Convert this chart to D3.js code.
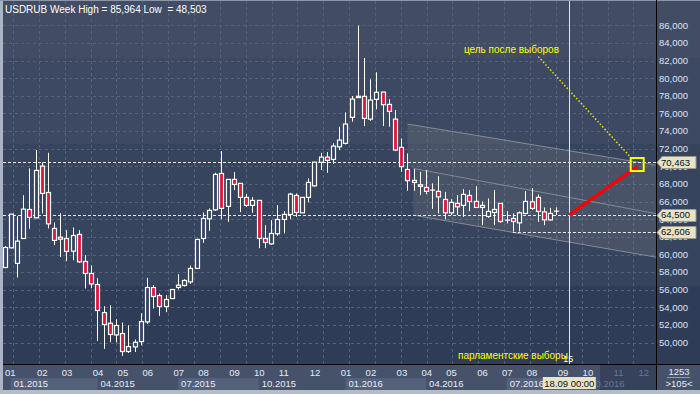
<!DOCTYPE html>
<html>
<head>
<meta charset="utf-8">
<script src="https://cdn.jsdelivr.net/npm/d3@7"></script>
<style>
  body { margin: 0; background: #2e3b56; }
  svg { display: block; font-family: "Liberation Sans", Arial, sans-serif; }
</style>
</head>
<body>
<div id="chart"></div>
<script>
// weekly candles USDRUB, index 0 = first visible week of 2015
const open = [58.53,60.76,58.99,61.82,65.11,64.16,70.03,67.04,62.96,61.97,61.82,60.38,62.28,59.21,57.85,56.60,53.42,52.21,50.88,51.04,
  49.00,49.52,50.13,52.36,56.26,55.35,54.10,55.01,56.26,56.49,56.90,58.42,61.82,64.05,65.07,69.20,65.46,68.52,68.07,66.48,
  65.57,66.14,61.82,61.21,62.35,63.98,64.55,66.70,64.73,66.48,67.79,70.45,71.05,70.79,72.22,72.61,75.56,77.80,77.94,75.36,
  77.60,78.43,77.03,75.36,72.15,69.65,68.41,67.91,67.61,67.31,67.16,66.25,64.73,65.80,65.57,66.70,66.02,65.34,64.32,64.77,
  65.80,63.90,64.09,63.59,64.66,65.98,66.48,64.84,63.93,64.92];
const high = [60.95,64.60,64.35,66.74,69.77,71.85,70.45,71.54,63.64,64.69,62.77,63.07,62.77,59.93,58.76,57.32,54.14,54.25,52.66,52.29,
  51.98,50.36,53.34,57.35,56.52,55.58,55.39,56.10,57.77,57.20,58.76,61.80,64.77,65.23,69.27,71.73,68.52,69.35,68.07,66.85,
  66.51,66.17,63.33,63.90,65.60,64.92,67.00,66.93,66.48,68.63,70.48,71.54,71.62,72.61,74.49,76.12,77.98,85.964,82.29,79.87,
  80.67,78.43,77.63,76.39,73.17,71.47,69.69,69.38,69.58,68.07,68.89,67.11,66.28,66.74,67.42,67.31,67.76,66.02,66.36,67.31,
  65.80,64.92,64.66,64.89,67.19,67.53,66.82,65.34,65.30,65.34];
const low = [58.45,60.70,57.40,61.80,62.91,64.10,64.66,62.96,61.06,59.73,59.25,59.36,59.05,56.15,56.18,50.20,49.29,50.05,50.02,48.503,
  48.84,48.95,49.68,52.13,53.88,53.04,53.46,54.95,56.03,56.37,56.67,58.40,61.32,62.69,64.95,64.01,63.71,67.31,64.81,65.41,
  64.73,60.72,60.72,61.10,62.12,62.39,64.01,64.27,64.73,65.91,67.68,69.58,69.27,70.26,71.85,72.49,75.06,77.75,74.57,75.17,
  76.47,74.57,74.49,71.73,69.38,67.23,67.23,66.74,66.85,65.18,64.66,63.98,64.47,64.47,64.27,64.92,65.34,63.33,64.16,63.33,
  63.59,63.53,62.606,62.62,64.55,65.04,63.71,63.33,63.82,64.50];
const close = [60.80,64.58,61.52,65.15,64.21,69.54,66.93,63.48,61.60,61.74,60.35,62.16,59.17,57.85,56.67,53.65,52.06,50.93,51.95,49.00,
  49.56,50.05,52.40,56.26,55.24,54.10,54.90,56.03,56.52,57.06,58.42,61.71,64.09,65.00,69.09,65.23,68.52,67.95,66.48,65.57,
  66.14,61.82,61.37,62.39,63.98,64.55,66.85,64.77,66.48,68.18,70.48,71.05,70.68,72.30,72.98,74.80,77.63,77.95,75.44,77.52,
  78.40,76.99,76.24,71.85,69.97,68.38,68.18,67.73,67.16,67.31,66.54,64.73,65.91,65.41,66.82,66.02,65.34,65.57,64.89,65.11,
  63.75,63.90,63.75,64.73,66.02,65.23,64.89,63.93,64.66,64.92];

const priceTicks = d3.range(50, 86.001, 2);
const levelValues = [70.463, 64.5, 62.606];
const levelStart = [0, 0, 82];

const monthIdx = [0,5,9,14,18,22,27,31,36,40,44,49,54,58,63,67,71,76,80,84,89,93,98,102];
const monthLbl = ["01","02","03","04","05","06","07","08","09","10","11","12","01","02","03","04","05","06","07","08","09","10","11","12"];
const quarterIdx = [1,15,28,41,55,68,81,94];
const quarterLbl = ["01.2015","04.2015","07.2015","10.2015","01.2016","04.2016","07.2016","10.2016"];

// analysis objects (week index, price)
const channelTop = [[65, 74.80], [105.1, 70.14]];
const channelMid = [[65.94, 69.77], [105.1, 64.64]];
const channelLow = [[65.94, 64.47], [105.1, 59.70]];
const electionIdx = 91.1;
const targetLine = [[91.1, 64.5], [102, 69.95]];
const targetBox = [102.05, 70.15];
const noteLine = [[86.1, 82.44], [101.05, 70.99]];

const W = 700, H = 394;
const plotL = 3, plotR = 656, plotT = 1, plotB = 364;

const x = d3.scaleLinear().domain([0, 89]).range([4.5, 556.3]);
const y = d3.scaleLinear().domain([50, 86]).range([342.7, 25.3]);

const svg = d3.select("#chart").append("svg").attr("width", W).attr("height", H);

// background bands
const bands = [[0, 58, "#424d65"], [58, 144, "#3d4962"], [144, 286, "#37445e"], [286, plotB, "#2f3c57"]];
svg.append("g").selectAll("rect").data(bands).enter().append("rect")
  .attr("x", 0).attr("y", d => d[0]).attr("width", W).attr("height", d => d[1] - d[0])
  .attr("fill", d => d[2]);

// grid
const grid = svg.append("g").attr("stroke", "#56627c").attr("stroke-dasharray", "3,3").attr("stroke-width", 1);
grid.selectAll("line.h").data(priceTicks).enter().append("line")
  .attr("x1", plotL).attr("x2", plotR)
  .attr("y1", d => Math.round(y(d)) + 0.5).attr("y2", d => Math.round(y(d)) + 0.5);
grid.selectAll("line.v").data(d3.range(0, 25)).enter().append("line")
  .attr("x1", d => Math.round(13 + d * 25.85) + 0.5).attr("x2", d => Math.round(13 + d * 25.85) + 0.5)
  .attr("y1", plotT).attr("y2", plotB);

const plot = svg.append("g");
const line = d3.line().x(d => x(d[0])).y(d => y(d[1]));

// regression channel bands
const upperBand = [channelTop[0], channelTop[1], channelMid[1], [channelTop[0][0], 69.95]];
const lowerBand = [channelMid[0], channelMid[1], channelLow[1], channelLow[0]];
plot.selectAll("path.band").data([upperBand, lowerBand]).enter().append("path")
  .attr("d", d => line(d) + "Z")
  .attr("fill", "#8a8a8a").attr("fill-opacity", 0.22);
plot.selectAll("path.edge").data([channelTop, channelMid, channelLow]).enter().append("path")
  .attr("d", line).attr("stroke", "#858b96").attr("stroke-width", 1).attr("fill", "none");

// horizontal levels
plot.selectAll("line.level").data(levelValues).enter().append("line")
  .attr("x1", (d, i) => levelStart[i] ? x(levelStart[i]) : plotL).attr("x2", plotR)
  .attr("y1", d => Math.round(y(d)) + 0.5).attr("y2", d => Math.round(y(d)) + 0.5)
  .attr("stroke", "#e8e8e8").attr("stroke-dasharray", "3,2").attr("stroke-width", 1);

// candles
const candles = plot.append("g");
const idx = d3.range(open.length);
candles.selectAll("line").data(idx).enter().append("line")
  .attr("x1", i => Math.round(x(i)) + 0.5).attr("x2", i => Math.round(x(i)) + 0.5)
  .attr("y1", i => y(high[i])).attr("y2", i => y(low[i]))
  .attr("stroke", "#ffffff").attr("stroke-width", 1);
candles.selectAll("rect").data(idx).enter().append("rect")
  .attr("x", i => Math.round(x(i)) - 1.5)
  .attr("width", 4)
  .attr("y", i => y(Math.max(open[i], close[i])))
  .attr("height", i => Math.max(0.01, Math.abs(y(open[i]) - y(close[i]))))
  .attr("fill", i => close[i] < open[i] ? "#e0143c" : "#37445e")
  .attr("stroke", "#ffffff").attr("stroke-width", 1.2);

// election vertical line
plot.append("line")
  .attr("x1", Math.round(x(electionIdx)) + 0.5).attr("x2", Math.round(x(electionIdx)) + 0.5)
  .attr("y1", plotT).attr("y2", plotB)
  .attr("stroke", "#ffff30").attr("stroke-width", 1);

// dotted note line
plot.append("path").attr("d", line(noteLine))
  .attr("stroke", "#e6e600").attr("stroke-width", 1.5).attr("stroke-dasharray", "1.5,2").attr("fill", "none");

// target arrow
plot.append("path").attr("d", line(targetLine))
  .attr("stroke", "#ff0000").attr("stroke-width", 3.2).attr("fill", "none");
plot.append("rect")
  .attr("x", x(targetBox[0]) - 6.5).attr("y", y(targetBox[1]) - 7)
  .attr("width", 13).attr("height", 13)
  .attr("fill", "none").attr("stroke", "#ffff00").attr("stroke-width", 2);

// texts in plot
svg.append("text").attr("x", 5).attr("y", 13).attr("fill", "#ffffff").attr("font-size", 10)
  .style("white-space", "pre").text("USDRUB Week High = 85,964 Low  = 48,503");
plot.append("text").attr("x", x(74.1)).attr("y", 53).attr("fill", "#ffff00").attr("font-size", 10)
  .text("цель после выборов");
plot.append("text").attr("x", 458).attr("y", 359).attr("fill", "#ffff00").attr("font-size", 10)
  .text("парламентские выборы");
plot.append("text").attr("x", x(electionIdx) - 6).attr("y", 362).attr("fill", "#ffffff").attr("font-size", 9)
  .text("15");

// frame
svg.append("rect").attr("x", 0).attr("y", 0).attr("width", 3).attr("height", H).attr("fill", "#aab4c6");
svg.append("rect").attr("x", 0).attr("y", 0).attr("width", W).attr("height", 1).attr("fill", "#8d97aa");

// time axis
const axis = svg.append("g");
axis.append("rect").attr("x", 3).attr("y", plotB).attr("width", W - 3).attr("height", 27).attr("fill", "#46526a");
axis.append("rect").attr("x", 600).attr("y", plotB).attr("width", plotR - 600).attr("height", 27).attr("fill", "#36425c");
axis.selectAll("rect.q").data(d3.range(0, quarterIdx.length - 1, 2)).enter().append("rect")
  .attr("x", k => x(quarterIdx[k])).attr("y", 378)
  .attr("width", k => Math.min(x(quarterIdx[k + 1]), 600) - x(quarterIdx[k])).attr("height", 12)
  .attr("fill", "#55617a");
axis.selectAll("text.m").data(monthIdx).enter().append("text")
  .attr("x", (d, i) => i === 0 ? 5 : x(d) + 1.5).attr("y", 375.5)
  .attr("fill", d => x(d) > 600 ? "#6a7690" : "#e4ebf7").attr("font-size", 9.5)
  .text((d, i) => monthLbl[i]);
axis.selectAll("text.q").data(quarterIdx).enter().append("text")
  .attr("x", d => x(d) + 3).attr("y", 386.5)
  .attr("fill", d => x(d) > 585 ? "#6a7690" : "#e4ebf7").attr("font-size", 9.5)
  .text((d, i) => quarterLbl[i]);
axis.append("rect").attr("x", x(electionIdx) - 26.5).attr("y", 377).attr("width", 53).attr("height", 12)
  .attr("fill", "#e6e3c8");
axis.append("text").attr("x", x(electionIdx)).attr("y", 386.5).attr("text-anchor", "middle")
  .attr("fill", "#111").attr("font-size", 9.5).text("18.09 00:00");
svg.append("rect").attr("x", 0).attr("y", 390).attr("width", W).attr("height", 4).attr("fill", "#b3bccb");
svg.append("line").attr("x1", 3).attr("x2", W).attr("y1", plotB + 0.5).attr("y2", plotB + 0.5)
  .attr("stroke", "#000").attr("stroke-width", 1);

// right price axis
const yAxis = svg.append("g");
yAxis.append("line").attr("x1", plotR + 0.5).attr("x2", plotR + 0.5).attr("y1", 0).attr("y2", 390)
  .attr("stroke", "#000").attr("stroke-width", 1);
yAxis.selectAll("text").data(priceTicks).enter().append("text")
  .attr("x", 659).attr("y", d => y(d)).attr("dy", "0.35em")
  .attr("fill", "#dbe4f4").attr("font-size", 9.5)
  .text(d => d.toFixed(3).replace(".", ","));
const tags = yAxis.selectAll("g.tag").data(levelValues).enter().append("g");
tags.append("path")
  .attr("d", d => { const c = Math.round(y(d)) + 0.5; return `M657,${c} L662,${c - 6} L696,${c - 6} L696,${c + 6} L662,${c + 6} Z`; })
  .attr("fill", "#e6e3c8").attr("stroke", "#9a9888").attr("stroke-width", 1);
tags.append("text").attr("x", 661).attr("y", d => y(d)).attr("dy", "0.36em")
  .attr("fill", "#111").attr("font-size", 9.5)
  .text(d => d.toFixed(3).replace(".", ","));

// bars counter box
yAxis.append("text").attr("x", 679).attr("y", 375).attr("text-anchor", "middle")
  .attr("fill", "#e4ebf7").attr("font-size", 9.5).text("1253");
yAxis.append("line").attr("x1", 667).attr("x2", 690).attr("y1", 377.5).attr("y2", 377.5)
  .attr("stroke", "#8e9ab0");
yAxis.append("text").attr("x", 679).attr("y", 387).attr("text-anchor", "middle")
  .attr("fill", "#e4ebf7").attr("font-size", 9.5).text(">105<");
</script>
</body>
</html>
